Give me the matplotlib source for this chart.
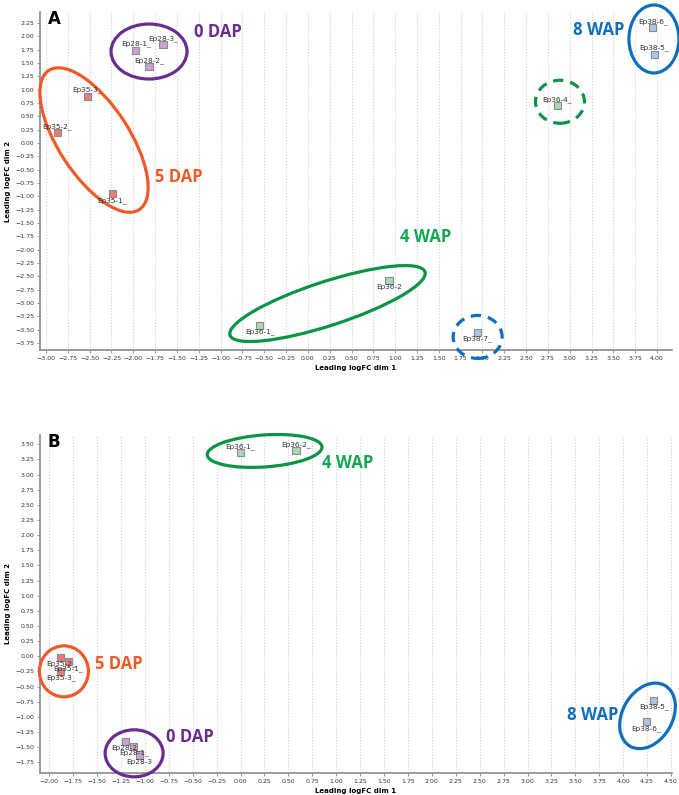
import numpy as np
import matplotlib
matplotlib.use("Agg")
import matplotlib.pyplot as plt
from matplotlib.patches import Ellipse
from matplotlib.transforms import IdentityTransform

# MDS coordinates (leading logFC dims) for the two sample sets
samples = ["Ep28-1_", "Ep28-2_", "Ep28-3_", "Ep35-1_", "Ep35-2_", "Ep35-3_",
           "Ep36-1_", "Ep36-2", "Ep36-4_", "Ep38-5_", "Ep38-6_", "Ep38-7_"]
groups = ["Ep28", "Ep28", "Ep28", "Ep35", "Ep35", "Ep35",
          "Ep36", "Ep36", "Ep36", "Ep38", "Ep38", "Ep38"]
a_dim1 = [-1.97, -1.82, -1.66, -2.24, -2.87, -2.53, -0.55, 0.93, 2.86, 3.97, 3.95, 1.94]
a_dim2 = [1.74, 1.43, 1.84, -0.95, 0.19, 0.87, -3.42, -2.57, 0.70, 1.66, 2.16, -3.55]

b_samples = ["Ep28-1_", "Ep28-2_", "Ep28-3", "Ep35-1_", "Ep35-2_", "Ep35-3_",
             "Ep36-1_", "Ep36-2_", "Ep38-5_", "Ep38-6_"]
b_groups = ["Ep28", "Ep28", "Ep28", "Ep35", "Ep35", "Ep35",
            "Ep36", "Ep36", "Ep38", "Ep38"]
b_dim1 = [-1.115, -1.20, -1.056, -1.80, -1.88, -1.88, 0.0, 0.58, 4.32, 4.24]
b_dim2 = [-1.49, -1.40, -1.63, -0.09, -0.02, -0.25, 3.36, 3.39, -0.73, -1.08]

# label above (+1) or below (-1) the marker
a_side = [1, 1, 1, -1, 1, 1, -1, -1, 1, 1, 1, -1]
b_side = [-1, -1, -1, -1, -1, -1, 1, 1, -1, -1]

fill = {"Ep28": "#c9a3cf", "Ep35": "#f07a78", "Ep36": "#a7d9b5", "Ep38": "#abc3e6"}

PURPLE = "#6b2c91"
ORANGE = "#f05a28"
GREEN = "#0a9444"
GREEN_T = "#10a850"
BLUE = "#0f6fbd"

# (x, y, width_px, height_px, angle, colour, dashed)
a_rings = [(-1.82, 1.715, 76, 55, 0, PURPLE, False),
           (-2.45, 0.055, 166, 71, -57, ORANGE, False),
           (2.888, 0.773, 49, 43, 0, GREEN, True),
           (3.965, 1.95, 50, 68, 0, BLUE, False),
           (0.225, -3.01, 205, 44, 18, GREEN, False),
           (1.945, -3.636, 49, 43, 0, BLUE, True)]
b_rings = [(0.252, 3.39, 115, 32, 4, GREEN, False),
           (-1.846, -0.249, 49, 51, 0, ORANGE, False),
           (-1.112, -1.602, 58, 47, 0, PURPLE, False),
           (4.254, -0.984, 70, 50, 60, BLUE, False)]

a_tags = [("0 DAP", -1.03, 2.08, PURPLE), ("5 DAP", -1.477, -0.64, ORANGE),
          ("8 WAP", 3.334, 2.12, BLUE), ("4 WAP", 1.353, -1.765, GREEN_T)]
b_tags = [("4 WAP", 1.119, 3.19, GREEN_T), ("5 DAP", -1.274, -0.125, ORANGE),
          ("0 DAP", -0.532, -1.33, PURPLE), ("8 WAP", 3.684, -0.967, BLUE)]


def draw_panel(ax, names, grp, xs, ys, side, xlim, ylim, xt, yt, rings, tags, letter):
    ax.set_xlim(*xlim)
    ax.set_ylim(*ylim)
    ax.set_xticks(xt)
    ax.set_yticks(yt)
    ax.xaxis.set_major_formatter("{x:.2f}")
    ax.yaxis.set_major_formatter("{x:.2f}")
    ax.tick_params(labelsize=4.5, labelcolor="#333333", length=2, width=0.6,
                   color="#888888", pad=2)
    ax.grid(axis="x", color="#cfcfcf", linestyle=":", linewidth=0.8)
    ax.set_axisbelow(True)
    for s in ("top", "right"):
        ax.spines[s].set_visible(False)
    for s in ("left", "bottom"):
        ax.spines[s].set_color("#8a8a8a")
        ax.spines[s].set_linewidth(1.2)
    ax.set_xlabel("Leading logFC dim 1", fontsize=5, fontweight="bold", labelpad=3)
    ax.set_ylabel("Leading logFC dim 2", fontsize=5, fontweight="bold", labelpad=3)

    ax.scatter(xs, ys, s=26, marker="s", c=[fill[g] for g in grp],
               edgecolors="#8c8c8c", linewidths=0.8, zorder=3)
    for n, x, y, sd in zip(names, xs, ys, side):
        ax.annotate(n, (x, y), xytext=(0, 6.5 * sd), textcoords="offset pixels",
                    ha="center", va="center", fontsize=5.3, color="#333333", zorder=6)

    for x, y, w, h, ang, col, dashed in rings:
        px, py = ax.transData.transform((x, y))
        ax.add_artist(Ellipse((px, py), w, h, angle=ang, transform=IdentityTransform(),
                              fill=False, edgecolor=col, linewidth=2.3,
                              linestyle=(0, (3.2, 2.2)) if dashed else "-",
                              clip_on=False, zorder=4))
    for t, x, y, col in tags:
        ax.text(x, y, t, color=col, fontsize=12, fontweight="bold",
                family="Open Sans", ha="center", va="center", clip_on=False)
    ax.text(0.012, 1.005, letter, transform=ax.transAxes, fontsize=12,
            fontweight="bold", ha="left", va="top")


fig = plt.figure(figsize=(6.79, 7.95), dpi=100)
ax_a = fig.add_axes([40 / 679, 1 - 350 / 795, 632 / 679, 338 / 795])
ax_b = fig.add_axes([39.5 / 679, 1 - 773 / 795, 632.5 / 679, 338 / 795])

draw_panel(ax_a, samples, groups, a_dim1, a_dim2, a_side,
           (-3.069, 4.172), (-3.881, 2.456),
           np.arange(-3.0, 4.01, 0.25), np.arange(-3.75, 2.26, 0.25),
           a_rings, a_tags, "A")
draw_panel(ax_b, b_samples, b_groups, b_dim1, b_dim2, b_side,
           (-2.101, 4.51), (-1.927, 3.653),
           np.arange(-2.0, 4.51, 0.25), np.arange(-1.75, 3.51, 0.25),
           b_rings, b_tags, "B")

fig.savefig("out.png", dpi=100)
